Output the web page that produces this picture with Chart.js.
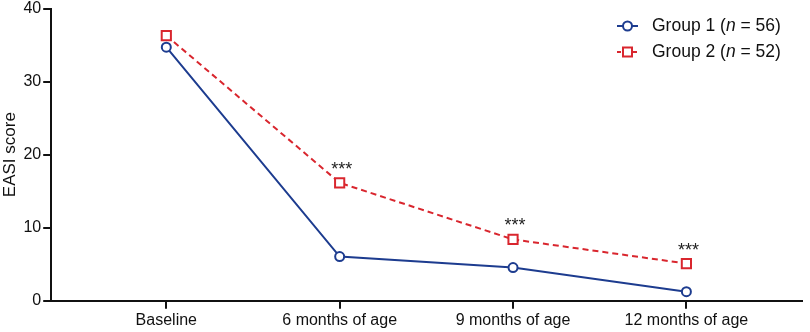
<!DOCTYPE html>
<html>
<head>
<meta charset="utf-8">
<script src="https://cdn.jsdelivr.net/npm/chart.js@4"></script>
<style>
    html, body { margin: 0; padding: 0; background: #fff; }
    #wrap { width: 810px; height: 332px; }
</style>
</head>
<body>
<div id="wrap"><canvas id="easiChart"></canvas></div>
<script>
const categories = ['Baseline', '6 months of age', '9 months of age', '12 months of age'];
const group1 = [34.7, 6.05, 4.55, 1.25];
const group2 = [36.3, 16.15, 8.4, 5.1];
const seriesNames = ['Group 1', 'Group 2'];
const seriesN = [56, 52];
const sigMarks = ['', '***', '***', '***'];
const yTicks = [0, 10, 20, 30, 40];

const FONT = "'Liberation Sans', Arial, sans-serif";
const BLUE = '#1d3c8f';
const RED = '#d9262e';

const toPoints = arr => arr.map((v, i) => ({ x: i, y: v }));

// "***" above the group 2 points
const sigPlugin = {
    id: 'sigPlugin',
    afterDatasetsDraw(chart) {
        const meta = chart.getDatasetMeta(1);
        const c = chart.ctx;
        c.save();
        c.font = `18px ${FONT}`;
        c.fillStyle = '#222';
        c.textAlign = 'center';
        c.textBaseline = 'middle';
        meta.data.forEach((pt, i) => {
            if (sigMarks[i]) c.fillText(sigMarks[i], pt.x + 2, pt.y - 13);
        });
        c.restore();
    }
};

// legend with line + marker and italic n
const legendPlugin = {
    id: 'legendPlugin',
    afterDraw(chart) {
        const c = chart.ctx;
        const x0 = 617, x1 = 638, tx = 652;
        const rows = [26, 52];
        c.save();
        chart.data.datasets.forEach((ds, i) => {
            const y = rows[i];
            c.strokeStyle = ds.borderColor;
            c.lineWidth = 2;
            c.setLineDash(i === 1 ? [4, 4] : []);
            c.beginPath();
            c.moveTo(x0, y);
            c.lineTo(x1, y);
            c.stroke();
            c.setLineDash([]);
            c.fillStyle = '#fff';
            c.beginPath();
            if (i === 0) {
                c.arc((x0 + x1) / 2, y, 4.5, 0, Math.PI * 2);
            } else {
                c.rect((x0 + x1) / 2 - 4.5, y - 4.5, 9, 9);
            }
            c.fill();
            c.stroke();

            c.fillStyle = '#111';
            c.textBaseline = 'middle';
            c.textAlign = 'left';
            let x = tx;
            const parts = [
                [`${seriesNames[i]} (`, 'normal'],
                ['n', 'italic'],
                [` = ${seriesN[i]})`, 'normal']
            ];
            parts.forEach(([t, style]) => {
                c.font = `${style} 17.5px ${FONT}`;
                c.fillText(t, x, y);
                x += c.measureText(t).width;
            });
        });
        c.restore();
    }
};

new Chart(document.getElementById('easiChart'), {
    type: 'line',
    data: {
        datasets: [
            {
                label: seriesNames[0],
                data: toPoints(group1),
                borderColor: BLUE,
                backgroundColor: '#fff',
                borderWidth: 2,
                pointStyle: 'circle',
                pointRadius: 4.5,
                pointBorderWidth: 2,
                pointBackgroundColor: '#fff',
                tension: 0
            },
            {
                label: seriesNames[1],
                data: toPoints(group2),
                borderColor: RED,
                backgroundColor: '#fff',
                borderWidth: 2,
                borderDash: [6, 4],
                pointStyle: 'rect',
                pointRadius: 6.5,
                pointBorderWidth: 2,
                pointBackgroundColor: '#fff',
                tension: 0
            }
        ]
    },
    options: {
        responsive: true,
        maintainAspectRatio: false,
        animation: false,
        layout: { padding: { top: 0, right: 0, bottom: 0, left: 0 } },
        plugins: {
            legend: { display: false },
            tooltip: { enabled: false }
        },
        scales: {
            x: {
                type: 'linear',
                min: -0.664,
                max: 3.664,
                afterBuildTicks: scale => {
                    scale.ticks = categories.map((_, i) => ({ value: i }));
                },
                ticks: {
                    callback: v => categories[v],
                    color: '#111',
                    font: { family: FONT, size: 16 },
                    padding: 2,
                    maxRotation: 0,
                    autoSkip: false
                },
                grid: { drawOnChartArea: false, drawTicks: true, tickLength: 8, color: '#111', lineWidth: 2 },
                border: { display: true, color: '#111', width: 2 }
            },
            y: {
                min: 0,
                max: 40,
                afterBuildTicks: scale => {
                    scale.ticks = yTicks.map(v => ({ value: v }));
                },
                ticks: {
                    color: '#111',
                    font: { family: FONT, size: 16, lineHeight: 0.7 },
                    padding: 2
                },
                title: {
                    display: true,
                    text: 'EASI score',
                    color: '#111',
                    font: { family: FONT, size: 17 },
                    padding: { top: 0, bottom: 1 }
                },
                grid: { drawOnChartArea: false, drawTicks: true, tickLength: 8, color: '#111', lineWidth: 2 },
                border: { display: true, color: '#111', width: 2 }
            }
        }
    },
    plugins: [sigPlugin, legendPlugin]
});
</script>
</body>
</html>
